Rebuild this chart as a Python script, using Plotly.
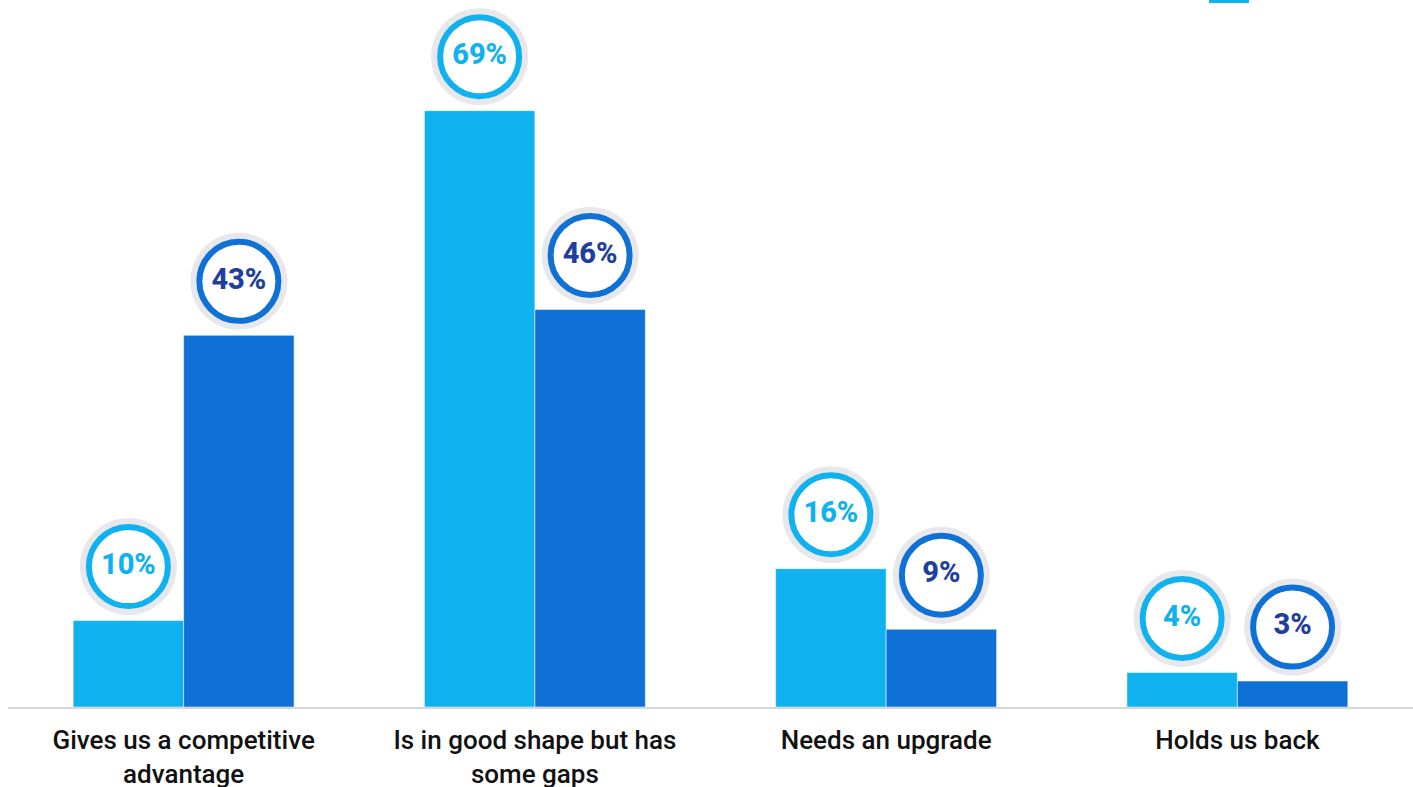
import plotly.graph_objects as go

# Survey responses: how respondents describe their current technology
categories = ["Gives us a competitive<br>advantage", "Is in good shape but has<br>some gaps",
              "Needs an upgrade", "Holds us back"]
series_a_name = "Group A"
series_b_name = "Group B"
series_a = [10, 69, 16, 4]
series_b = [43, 46, 9, 3]

LIGHT = "#0fb1ef"
DARK = "#0f71d6"
NAVY = "#1f3f9e"
RING_BG = "#e8e8ec"

W, H = 1413, 787
M_L, M_R, M_T, M_B = 8, 0, 0, 80
Y_MAX = 81.8
plot_h = H - M_T - M_B
px_per_unit = plot_h / Y_MAX
bubble_lift = 54 / px_per_unit      # bubble centre sits a fixed distance above the bar top

x_pos = list(range(len(categories)))
bargap = 0.371
half_bar = (1 - bargap) / 4         # half the width of one bar in axis units

fig = go.Figure()
fig.add_bar(x=x_pos, y=series_a, name=series_a_name, marker_color=LIGHT,
            marker_line=dict(color="rgba(255,255,255,0.5)", width=1))
fig.add_bar(x=x_pos, y=series_b, name=series_b_name, marker_color=DARK,
            marker_line=dict(color="rgba(255,255,255,0.5)", width=1))


def bubbles(values, offset, ring, text_color):
    xs = [x + offset for x in x_pos]
    ys = [v + bubble_lift for v in values]
    # soft grey halo
    fig.add_scatter(x=xs, y=ys, mode="markers", showlegend=False, hoverinfo="skip",
                    marker=dict(size=97, color=RING_BG, line=dict(width=0)))
    # coloured ring with white centre and the value label
    fig.add_scatter(x=xs, y=ys, mode="markers+text", showlegend=False, hoverinfo="skip",
                    marker=dict(size=79, color="white", line=dict(color=ring, width=6)),
                    text=[f"{v}%" for v in values], textposition="middle center",
                    textfont=dict(family="Roboto", size=29, weight=800, color=text_color))


bubbles(series_a, -half_bar, LIGHT, LIGHT)
bubbles(series_b, half_bar, DARK, NAVY)

# legend swatch peeking in at the top edge
fig.add_shape(type="rect", xref="paper", yref="paper",
              x0=(1209 - M_L) / (W - M_L - M_R), x1=(1249 - M_L) / (W - M_L - M_R),
              y0=1 - 3 / plot_h, y1=1, fillcolor=LIGHT, line_width=0)

fig.update_layout(
    width=W, height=H,
    margin=dict(l=M_L, r=M_R, t=M_T, b=M_B, autoexpand=False),
    barmode="group", bargap=bargap, bargroupgap=0,
    plot_bgcolor="white", paper_bgcolor="white",
    showlegend=False,
    font=dict(family="Roboto", color="#111111"),
)
fig.update_xaxes(range=[-0.5, len(categories) - 0.5], tickvals=x_pos, ticktext=categories,
                 tickfont=dict(family="Roboto", size=26, weight=500, color="#111111"),
                 showline=True, linecolor="#d6d6d6", linewidth=2, automargin=False,
                 showgrid=False, zeroline=False, ticks="", ticklabelstandoff=9)
fig.update_yaxes(range=[0, Y_MAX], visible=False, showgrid=False, zeroline=False,
                 automargin=False)

fig.write_html("out.html", config={"displayModeBar": False})
